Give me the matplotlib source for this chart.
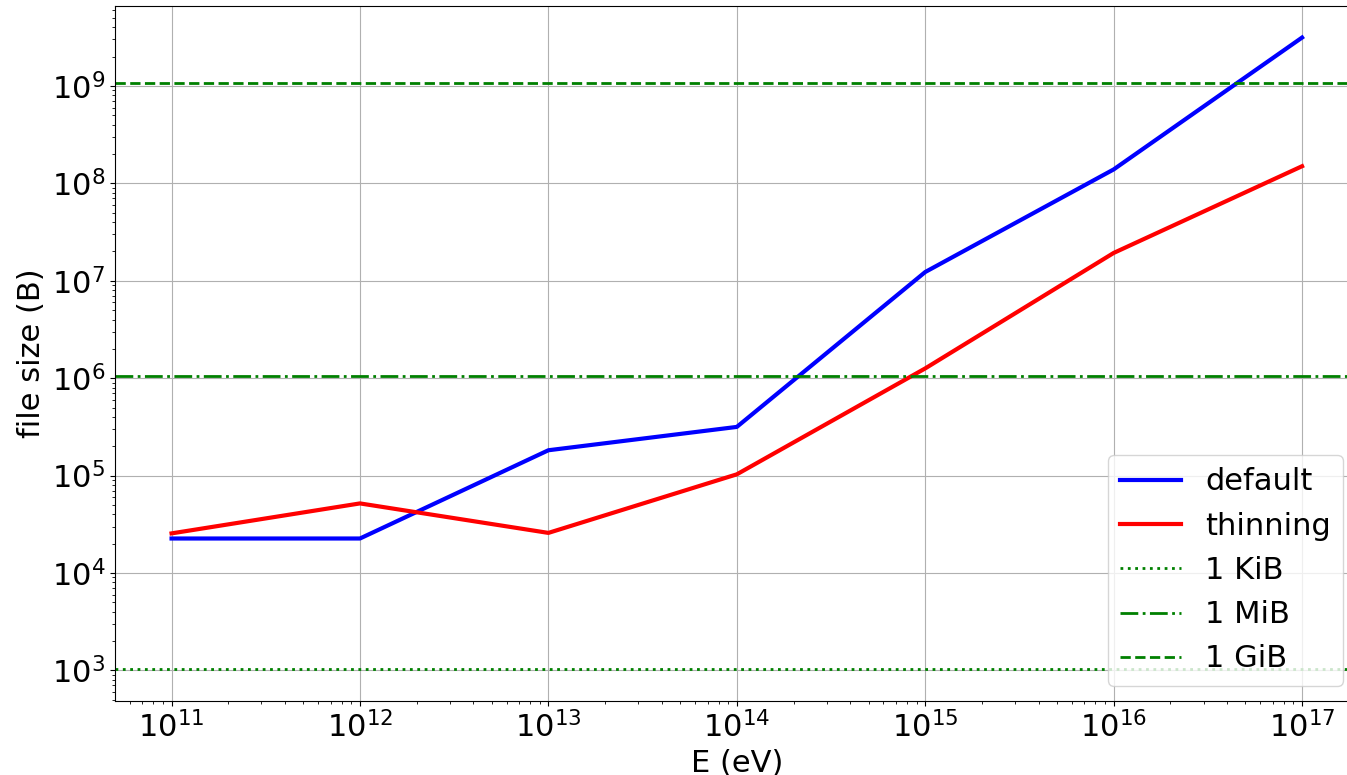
import matplotlib
matplotlib.use("Agg")
import matplotlib.pyplot as plt

# primary energies (eV) and resulting output file sizes (bytes)
energies = [1e11, 1e12, 1e13, 1e14, 1e15, 1e16, 1e17]
size_default = [2.26e4, 2.26e4, 1.82e5, 3.16e5, 1.23e7, 1.39e8, 3.14e9]
size_thinning = [2.55e4, 5.18e4, 2.58e4, 1.03e5, 1.26e6, 1.93e7, 1.50e8]

# reference sizes
KiB = 1024
MiB = 1024 ** 2
GiB = 1024 ** 3

plt.rcParams['font.size'] = 22

fig = plt.figure(figsize=(13.47, 7.75), dpi=100)
ax = fig.add_axes([0.0854, 0.0955, 0.9232, 0.8968])

ax.plot(energies, size_default, color='b', lw=3, label='default')
ax.plot(energies, size_thinning, color='r', lw=3, label='thinning')
ax.axhline(KiB, color='green', ls=':', lw=2, label='1 KiB')
ax.axhline(MiB, color='green', ls='-.', lw=2, label='1 MiB')
ax.axhline(GiB, color='green', ls='--', lw=2, label='1 GiB')

ax.set_xscale('log')
ax.set_yscale('log')
ax.set_xlabel('E (eV)')
ax.set_ylabel('file size (B)')
ax.grid(True)
ax.legend(loc='lower right')

fig.savefig('out.png', dpi=100)
